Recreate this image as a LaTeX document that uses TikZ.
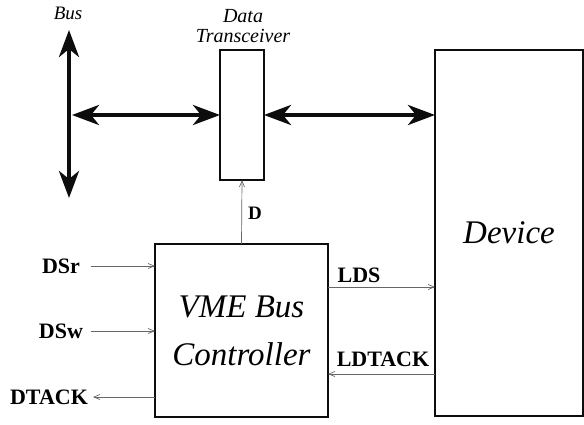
\documentclass[tikz,border=0pt]{standalone}
\usepackage{fontspec}
\setmainfont{Liberation Serif}
\usetikzlibrary{arrows.meta, positioning}
\definecolor{mainBlack}{gray}{0.05}
\definecolor{subGray}{gray}{0.4}

\begin{document}
\begin{tikzpicture}[x=1pt, y=-1pt,
    box/.style={draw=mainBlack, line width=1.3pt, inner sep=0pt, outer sep=0pt},
    busline/.style={line width=4pt, draw=mainBlack,
      {Stealth[length=27pt,width=20pt,inset=8pt]}-{Stealth[length=27pt,width=20pt,inset=8pt]}},
    sig/.style={draw=subGray, line width=0.7pt, -{Straight Barb[length=6pt,width=5pt]}},
    siglabel/.style={font=\bfseries\fontsize{22}{24}\selectfont, inner sep=0pt}]
    \useasboundingbox (0,0) rectangle (584,424);

    % Coordinates
    \coordinate (busTop) at (69,30);
    \coordinate (busBot) at (69,198);
    \coordinate (busJoin) at (72,115);

    % Boxes
    \node[box, minimum width=44pt, minimum height=130pt] (trans) at (242,115) {};
    \node[box, minimum width=148pt, minimum height=366pt,
          font=\itshape\fontsize{33}{40}\selectfont] (dev) at (509,233) {Device};
    \node[box, minimum width=173pt, minimum height=173pt, align=center,
          font=\itshape\fontsize{33}{48}\selectfont] (ctrl) at (241.5,330.5) {VME Bus\\Controller};

    % Bus
    \draw[busline] (busBot) -- (busTop);
    \draw[busline] (busJoin) -- (trans.west);
    \draw[busline] (trans.east) -- (trans.east -| dev.west);

    % Titles
    \node[inner sep=0pt, font=\itshape\fontsize{19}{19}\selectfont] (busName) at (68,13) {Bus};
    \node[inner sep=0pt, align=center, font=\itshape\fontsize{20}{20}\selectfont] (transName) at (243,26) {Data\\Transceiver};

    % Signals into the controller
    \node[siglabel] (dsr) at (61,266) {DSr};
    \node[siglabel] (dsw) at (61,331) {DSw};
    \node[siglabel] (dtack) at (49,397) {DTACK};
    \coordinate (dsrIn) at (91,266);
    \coordinate (dswIn) at (91,331);
    \coordinate (dtackOut) at (93,397);
    \draw[sig] (dsrIn) -- (dsrIn -| ctrl.west);
    \draw[sig] (dswIn) -- (dswIn -| ctrl.west);
    \draw[sig] (dtackOut -| ctrl.west) -- (dtackOut);

    % Controller to transceiver and device
    \draw[sig] (ctrl.north) -- (trans.south);
    \node[siglabel, font=\bfseries\fontsize{19}{20}\selectfont] (dName) at (255,213) {D};
    \coordinate (ldsY) at (0,287);
    \coordinate (ldtackY) at (0,374);
    \draw[sig] (ctrl.east |- ldsY) -- (dev.west |- ldsY);
    \draw[sig] (dev.west |- ldtackY) -- (ctrl.east |- ldtackY);
    \node[siglabel] (lds) at (359,275) {LDS};
    \node[siglabel] (ldtack) at (383,359) {LDTACK};
\end{tikzpicture}
\end{document}
